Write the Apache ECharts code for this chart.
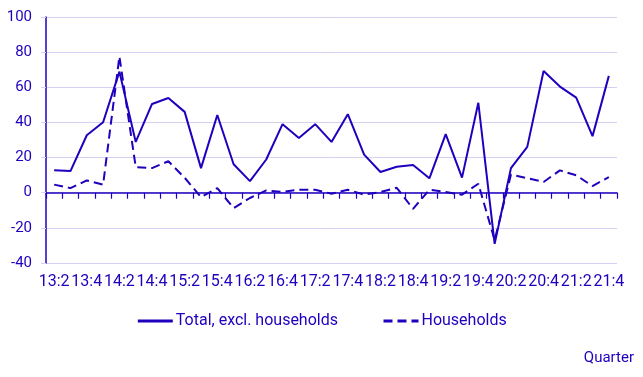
<!DOCTYPE html>
<html lang="en">
<head>
    <meta charset="UTF-8">
    <title>Quarter</title>
    <script src="https://cdn.jsdelivr.net/npm/echarts@6/dist/echarts.min.js"></script>
    <style>
        body { margin: 0; background: #fff; }
        #main { width: 643px; height: 377px; }
    </style>
</head>
<body>
<div id="main"></div>
<script type="text/javascript">
    // quarters 13:2 .. 21:4
    var quarters = ['13:2','13:3','13:4','14:1','14:2','14:3','14:4','15:1','15:2','15:3','15:4',
        '16:1','16:2','16:3','16:4','17:1','17:2','17:3','17:4','18:1','18:2','18:3','18:4',
        '19:1','19:2','19:3','19:4','20:1','20:2','20:3','20:4','21:1','21:2','21:3','21:4'];
    var totalExclHouseholds = [12.8, 12.3, 32.7, 40.1, 68.9, 28.9, 50.5, 53.9, 46.0, 14.0, 44.2,
        16.2, 6.6, 18.9, 39.0, 31.2, 39.0, 28.9, 44.7, 21.7, 11.8, 14.8, 15.8,
        8.2, 33.3, 8.6, 51.2, -29.1, 14.0, 26.1, 69.3, 60.4, 54.1, 32.2, 66.5];
    var households = [4.6, 2.6, 7.0, 4.6, 77.5, 14.6, 14.0, 17.9, 8.5, -2.5, 2.6,
        -8.8, -3.0, 1.3, 0.4, 1.7, 1.7, -0.6, 1.7, -1.1, 0.4, 2.8, -9.2,
        1.7, 0.4, -1.1, 5.1, -27.0, 10.3, 8.3, 6.1, 12.7, 9.9, 3.8, 8.9];
    var yMin = -40, yMax = 100, yStep = 20;

    var blue = '#1e00be';
    var gridColor = '#d3d1f1';
    var font = 'Roboto, "Noto Sans", sans-serif';

    var myChart = echarts.init(document.getElementById('main'));
    myChart.setOption({
        animation: false,
        title: {
            text: 'Quarter',
            right: 4,
            top: 346,
            textStyle: { color: blue, fontSize: 15, fontWeight: 'normal', fontFamily: font }
        },
        legend: {
            left: 'center',
            top: 308,
            itemWidth: 35,
            itemHeight: 14,
            itemGap: 44,
            itemStyle: { color: 'rgba(0,0,0,0)', borderWidth: 0 },
            lineStyle: { width: 3 },
            textStyle: { color: blue, fontSize: 16, fontFamily: font, padding: [0, 0, 0, -2] },
            data: ['Total, excl. households', 'Households']
        },
        grid: { left: 46, right: 26, top: 17, bottom: 114 },
        xAxis: [
            {
                // axis line at zero with ticks between quarters
                type: 'category',
                data: quarters,
                boundaryGap: true,
                axisLine: { onZero: true, lineStyle: { color: blue, width: 1.5 } },
                axisTick: { show: true, interval: 0, length: 6, lineStyle: { color: blue, width: 1.2 } },
                axisLabel: { show: false }
            },
            {
                // labels at the bottom of the plot
                type: 'category',
                data: quarters,
                position: 'bottom',
                boundaryGap: true,
                axisLine: { show: false, onZero: false },
                axisTick: { show: false },
                axisLabel: { interval: 1, margin: 11, color: blue, fontSize: 16, fontFamily: font }
            }
        ],
        yAxis: {
            type: 'value',
            min: yMin,
            max: yMax,
            interval: yStep,
            axisLine: { show: true, lineStyle: { color: blue, width: 1.5 } },
            axisTick: { show: true, length: 5, lineStyle: { color: gridColor } },
            axisLabel: { margin: 14, color: blue, fontSize: 15, fontFamily: font },
            splitLine: { lineStyle: { color: gridColor, width: 1 } }
        },
        series: [
            {
                name: 'Total, excl. households',
                type: 'line',
                data: totalExclHouseholds,
                symbol: 'none',
                color: blue,
                lineStyle: { color: blue, width: 2 }
            },
            {
                name: 'Households',
                type: 'line',
                data: households,
                symbol: 'none',
                color: blue,
                lineStyle: { color: blue, width: 2, type: [9, 5] }
            }
        ]
    });
</script>
</body>
</html>
